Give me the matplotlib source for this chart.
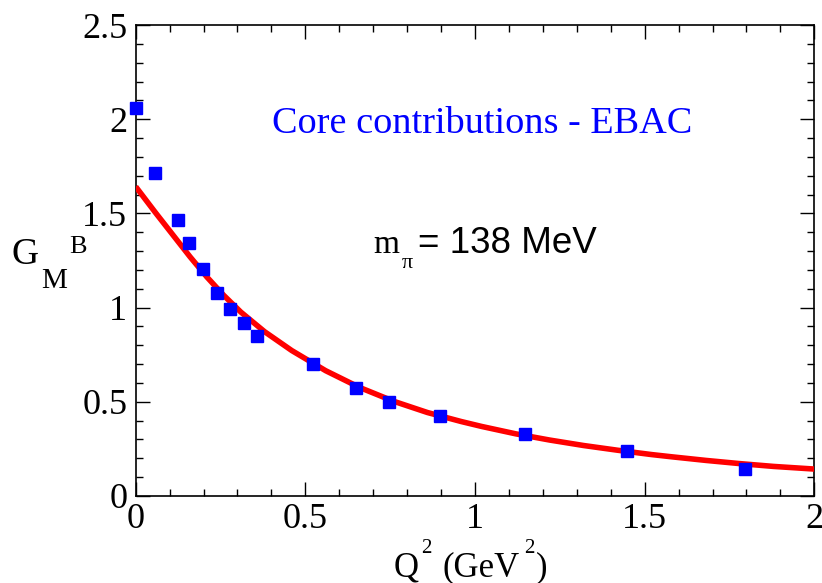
import matplotlib
matplotlib.use("Agg")
import matplotlib.pyplot as plt
from matplotlib.ticker import MultipleLocator, FixedLocator

# Data
q2_points = [0.0, 0.058, 0.126, 0.158, 0.198, 0.239, 0.278, 0.318, 0.358,
             0.524, 0.649, 0.748, 0.897, 1.148, 1.448, 1.797]
gm_points = [2.06, 1.715, 1.465, 1.344, 1.203, 1.08, 0.995, 0.918, 0.85,
             0.699, 0.575, 0.50, 0.425, 0.327, 0.24, 0.142]

q2_curve = [0.0, 0.06, 0.11, 0.16, 0.21, 0.26, 0.31, 0.38, 0.46, 0.56, 0.66,
            0.76, 0.86, 0.96, 1.02, 1.12, 1.22, 1.32, 1.42, 1.52, 1.58, 1.68,
            1.78, 1.88, 2.0]
gm_curve = [1.642, 1.50, 1.385, 1.27, 1.162, 1.064, 0.976, 0.872, 0.772, 0.665,
            0.576, 0.503, 0.443, 0.395, 0.369, 0.330, 0.297, 0.268, 0.243,
            0.220, 0.208, 0.189, 0.172, 0.157, 0.143]

x_ticks = [0, 0.5, 1, 1.5, 2]
x_ticklabels = ["0", "0.5", "1", "1.5", "2"]
y_ticks = [0, 0.5, 1, 1.5, 2, 2.5]
y_ticklabels = ["0", "0.5", "1", "1.5", "2", "2.5"]

W, H = 822, 583
fig = plt.figure(figsize=(W / 100, H / 100), dpi=100)
L, R, T, B = 135.7, 814.3, 25, 496
ax = fig.add_axes([L / W, 1 - B / H, (R - L) / W, (B - T) / H])

serif = "Liberation Serif"
sans = "Liberation Sans"

ax.plot(q2_curve, gm_curve, color="#ff0000", lw=4.0, solid_capstyle="butt",
        solid_joinstyle="round", zorder=3)
ax.plot(q2_points, gm_points, linestyle="none", marker="s", ms=9,
        color="#0000ff", mec="#0000ff", zorder=4, clip_on=False)

ax.set_xlim(0, 2)
ax.set_ylim(0, 2.5)
ax.xaxis.set_major_locator(FixedLocator(x_ticks))
ax.yaxis.set_major_locator(FixedLocator(y_ticks))
ax.xaxis.set_minor_locator(MultipleLocator(0.1))
ax.yaxis.set_minor_locator(MultipleLocator(0.1))
ax.set_xticklabels(x_ticklabels, fontfamily=serif, fontsize=26)
ax.set_yticklabels(y_ticklabels, fontfamily=serif, fontsize=26)
ax.tick_params(which="both", direction="in", top=True, right=True, width=1.0, color="black")
ax.tick_params(which="major", length=10)
ax.tick_params(which="minor", length=5)
ax.tick_params(axis="x", which="major", pad=5)
ax.tick_params(axis="y", which="major", pad=6)
for s in ax.spines.values():
    s.set_linewidth(1.2)


def ftext(x, y, s, **kw):
    fig.text(x / W, 1 - y / H, s, **kw)


# x-axis title
ftext(394, 576, "Q", family=serif, fontsize=25, ha="left", va="baseline")
ftext(421, 553, "2", family=serif, fontsize=15, ha="left", va="baseline")
ftext(443, 576, "(GeV", family=serif, fontsize=25, ha="left", va="baseline")
ftext(524, 553, "2", family=serif, fontsize=15, ha="left", va="baseline")
ftext(536, 576, ")", family=serif, fontsize=25, ha="left", va="baseline")

# y-axis title
ftext(11, 264, "G", family=serif, fontsize=27, ha="left", va="baseline")
ftext(41, 288, "M", family=serif, fontsize=21, ha="left", va="baseline")
ftext(69, 253, "B", family=serif, fontsize=19, ha="left", va="baseline")

# annotations
ftext(272, 133, "Core contributions - EBAC", family=serif, fontsize=27.5,
      color="#0000ff", ha="left", va="baseline")
ftext(373, 253, "m", family=serif, fontsize=24, ha="left", va="baseline")
ftext(402, 268, "\u03c0", family=serif, fontsize=16, ha="left", va="baseline")
ftext(418, 253, "= 138 MeV", family=sans, fontsize=26.5, ha="left", va="baseline")

fig.savefig("out.png", dpi=100)
